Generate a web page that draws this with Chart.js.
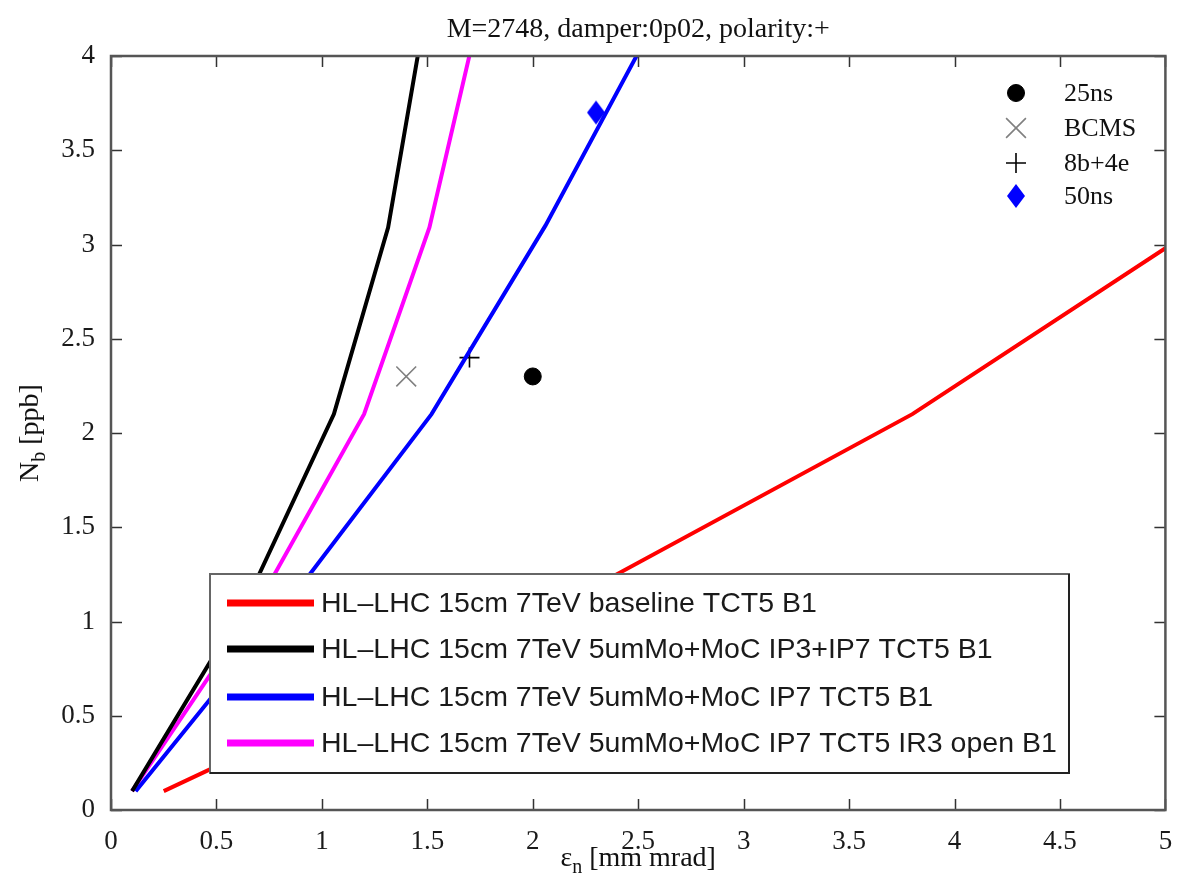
<!DOCTYPE html>
<html>
<head>
<meta charset="utf-8">
<script src="https://cdn.jsdelivr.net/npm/chart.js@4"></script>
<style>
  body { margin: 0; background: #fff; }
  canvas { display: block; }
</style>
</head>
<body>
<canvas id="myChart" width="1181" height="878"></canvas>
<script>
const xTicks = [0, 0.5, 1, 1.5, 2, 2.5, 3, 3.5, 4, 4.5, 5];
const yTicks = [0, 0.5, 1, 1.5, 2, 2.5, 3, 3.5, 4];

const lineLabels = [
  "HL\u2013LHC 15cm 7TeV baseline TCT5 B1",
  "HL\u2013LHC 15cm 7TeV 5umMo+MoC IP3+IP7 TCT5 B1",
  "HL\u2013LHC 15cm 7TeV 5umMo+MoC IP7 TCT5 B1",
  "HL\u2013LHC 15cm 7TeV 5umMo+MoC IP7 TCT5 IR3 open B1",
];
const lineColors = ["#ff0000", "#000000", "#0000ff", "#ff00ff"];

// emittance (x) and intensity (y) of each curve
const baselineX = [0.25, 2.15, 3.8, 5.0];
const baselineY = [0.1, 1.1, 2.1, 2.98];
const ip3ip7X = [0.1, 0.64, 1.057, 1.314, 1.47];
const ip3ip7Y = [0.1, 1.1, 2.1, 3.09, 4.1];
const ip7X = [0.117, 0.84, 1.52, 2.06, 2.54];
const ip7Y = [0.1, 1.1, 2.1, 3.1, 4.1];
const ir3OpenX = [0.1, 0.7, 1.2, 1.51, 1.72];
const ir3OpenY = [0.1, 1.1, 2.1, 3.09, 4.1];

// beam types
const beamLabels = ["25ns", "BCMS", "8b+4e", "50ns"];
const beamX = [2.0, 1.4, 1.7, 2.3];
const beamY = [2.3, 2.3, 2.4, 3.7];

const serif = "Liberation Serif";
const sans = "Liberation Sans";

function toPoints(xs, ys) {
  return xs.map((x, i) => ({ x, y: ys[i] }));
}

// taller than wide diamond, like the matlab marker
const diamond = document.createElement("canvas");
diamond.width = 20;
diamond.height = 26;
{
  const d = diamond.getContext("2d");
  d.fillStyle = "#0000ff";
  d.beginPath();
  d.moveTo(10, 1);
  d.lineTo(19, 13);
  d.lineTo(10, 25);
  d.lineTo(1, 13);
  d.closePath();
  d.fill();
}

const beamStyles = [
  { pointStyle: "circle", radius: 8.5, color: "#000", border: 1 },
  { pointStyle: "crossRot", radius: 14, color: "#808080", border: 1.6 },
  { pointStyle: "cross", radius: 10, color: "#000", border: 1.6 },
  { pointStyle: diamond, radius: 10, color: "#0000ff", border: 1 },
];

const lineSeries = [
  toPoints(baselineX, baselineY),
  toPoints(ip3ip7X, ip3ip7Y),
  toPoints(ip7X, ip7Y),
  toPoints(ir3OpenX, ir3OpenY),
];

const datasets = [];
lineSeries.forEach((pts, i) => {
  datasets.push({
    label: lineLabels[i],
    data: pts,
    showLine: true,
    borderColor: lineColors[i],
    borderWidth: 4,
    pointRadius: 0,
    pointHoverRadius: 0,
    tension: 0,
  });
});
beamLabels.forEach((lab, i) => {
  const s = beamStyles[i];
  datasets.push({
    label: lab,
    data: [{ x: beamX[i], y: beamY[i] }],
    showLine: false,
    pointStyle: s.pointStyle,
    pointRadius: s.radius,
    backgroundColor: s.color,
    borderColor: s.color,
    borderWidth: s.border,
  });
});

function drawSubText(ctx, parts, x, y, align) {
  // parts: [text, isSub]
  const big = "28px " + serif;
  const small = "20px " + serif;
  let total = 0;
  parts.forEach(([t, sub]) => {
    ctx.font = sub ? small : big;
    total += ctx.measureText(t).width;
  });
  let cx = align === "center" ? x - total / 2 : x;
  ctx.textAlign = "left";
  parts.forEach(([t, sub]) => {
    ctx.font = sub ? small : big;
    ctx.fillText(t, cx, sub ? y + 7 : y);
    cx += ctx.measureText(t).width;
  });
}

const decorations = {
  id: "decorations",
  afterDraw(chart) {
    const ctx = chart.ctx;
    const a = chart.chartArea;
    const xs = chart.scales.x;
    const ys = chart.scales.y;
    ctx.save();

    // inside ticks on all four sides
    ctx.strokeStyle = "#333";
    ctx.lineWidth = 1.5;
    ctx.beginPath();
    xTicks.forEach((v) => {
      const px = Math.round(xs.getPixelForValue(v)) + 0.5;
      ctx.moveTo(px, a.bottom);
      ctx.lineTo(px, a.bottom - 11);
      ctx.moveTo(px, a.top);
      ctx.lineTo(px, a.top + 11);
    });
    yTicks.forEach((v) => {
      const py = Math.round(ys.getPixelForValue(v)) + 0.5;
      ctx.moveTo(a.left, py);
      ctx.lineTo(a.left + 11, py);
      ctx.moveTo(a.right, py);
      ctx.lineTo(a.right - 11, py);
    });
    ctx.stroke();

    // frame
    ctx.strokeStyle = "#555";
    ctx.lineWidth = 2.5;
    ctx.strokeRect(a.left, a.top, a.right - a.left, a.bottom - a.top);

    // title
    ctx.fillStyle = "#111";
    ctx.textBaseline = "alphabetic";
    ctx.font = "28px " + serif;
    ctx.textAlign = "center";
    ctx.fillText("M=2748, damper:0p02, polarity:+", (a.left + a.right) / 2, 37);

    // axis titles
    drawSubText(ctx, [["\u03b5", false], ["n", true], [" [mm mrad]", false]],
      (a.left + a.right) / 2, 866, "center");
    ctx.save();
    ctx.translate(38, (a.top + a.bottom) / 2);
    ctx.rotate(-Math.PI / 2);
    drawSubText(ctx, [["N", false], ["b", true], [" [ppb]", false]], 0, 0, "center");
    ctx.restore();

    // legend of the curves
    const bx = 210, by = 574, bw = 859, bh = 199;
    ctx.fillStyle = "#fff";
    ctx.fillRect(bx, by, bw, bh);
    ctx.strokeStyle = "#666";
    ctx.lineWidth = 2;
    ctx.strokeRect(bx, by, bw, bh);
    ctx.strokeStyle = "#222";
    ctx.beginPath();
    ctx.moveTo(bx + bw, by);
    ctx.lineTo(bx + bw, by + bh);
    ctx.lineTo(bx, by + bh);
    ctx.stroke();
    const rowY = [603, 649, 697, 743];
    ctx.font = "28.5px " + sans;
    ctx.textAlign = "left";
    ctx.textBaseline = "middle";
    lineLabels.forEach((lab, i) => {
      ctx.strokeStyle = lineColors[i];
      ctx.lineWidth = 7;
      ctx.beginPath();
      ctx.moveTo(227, rowY[i]);
      ctx.lineTo(314, rowY[i]);
      ctx.stroke();
      ctx.fillStyle = "#1a1a1a";
      ctx.fillText(lab, 321, rowY[i] + 1);
    });

    // legend of the beam types
    const mY = [93, 128, 163, 196];
    ctx.font = "26px " + serif;
    beamLabels.forEach((lab, i) => {
      const s = beamStyles[i];
      ctx.fillStyle = s.color;
      ctx.strokeStyle = s.color;
      ctx.lineWidth = s.border;
      Chart.helpers.drawPoint(ctx, { pointStyle: s.pointStyle, radius: s.radius, borderWidth: s.border }, 1016, mY[i]);
      ctx.fillStyle = "#111";
      ctx.fillText(lab, 1064, mY[i] + 1);
    });

    ctx.restore();
  },
};

const tickFont = { family: serif, size: 27 };

new Chart(document.getElementById("myChart"), {
  type: "scatter",
  data: { datasets },
  options: {
    responsive: false,
    animation: false,
    layout: { padding: { left: 0, right: 10, top: 56, bottom: 0 } },
    plugins: { legend: { display: false }, title: { display: false }, tooltip: { enabled: false } },
    scales: {
      x: {
        type: "linear",
        min: 0,
        max: 5,
        afterBuildTicks: (s) => { s.ticks = xTicks.map((v) => ({ value: v })); },
        afterFit: (s) => { s.height = 68; s.paddingLeft = 0; s.paddingRight = 0; },
        grid: { display: false },
        border: { display: false },
        ticks: { font: tickFont, color: "#1a1a1a", padding: 8, maxRotation: 0, autoSkip: false, callback: (v) => String(v) },
      },
      y: {
        type: "linear",
        min: 0,
        max: 4,
        afterBuildTicks: (s) => { s.ticks = yTicks.map((v) => ({ value: v })); },
        afterFit: (s) => { s.width = 111; s.paddingTop = 0; s.paddingBottom = 0; },
        grid: { display: false },
        border: { display: false },
        ticks: { font: tickFont, color: "#1a1a1a", padding: 8, autoSkip: false, callback: (v) => String(v) },
      },
    },
  },
  plugins: [decorations],
});
</script>
</body>
</html>
